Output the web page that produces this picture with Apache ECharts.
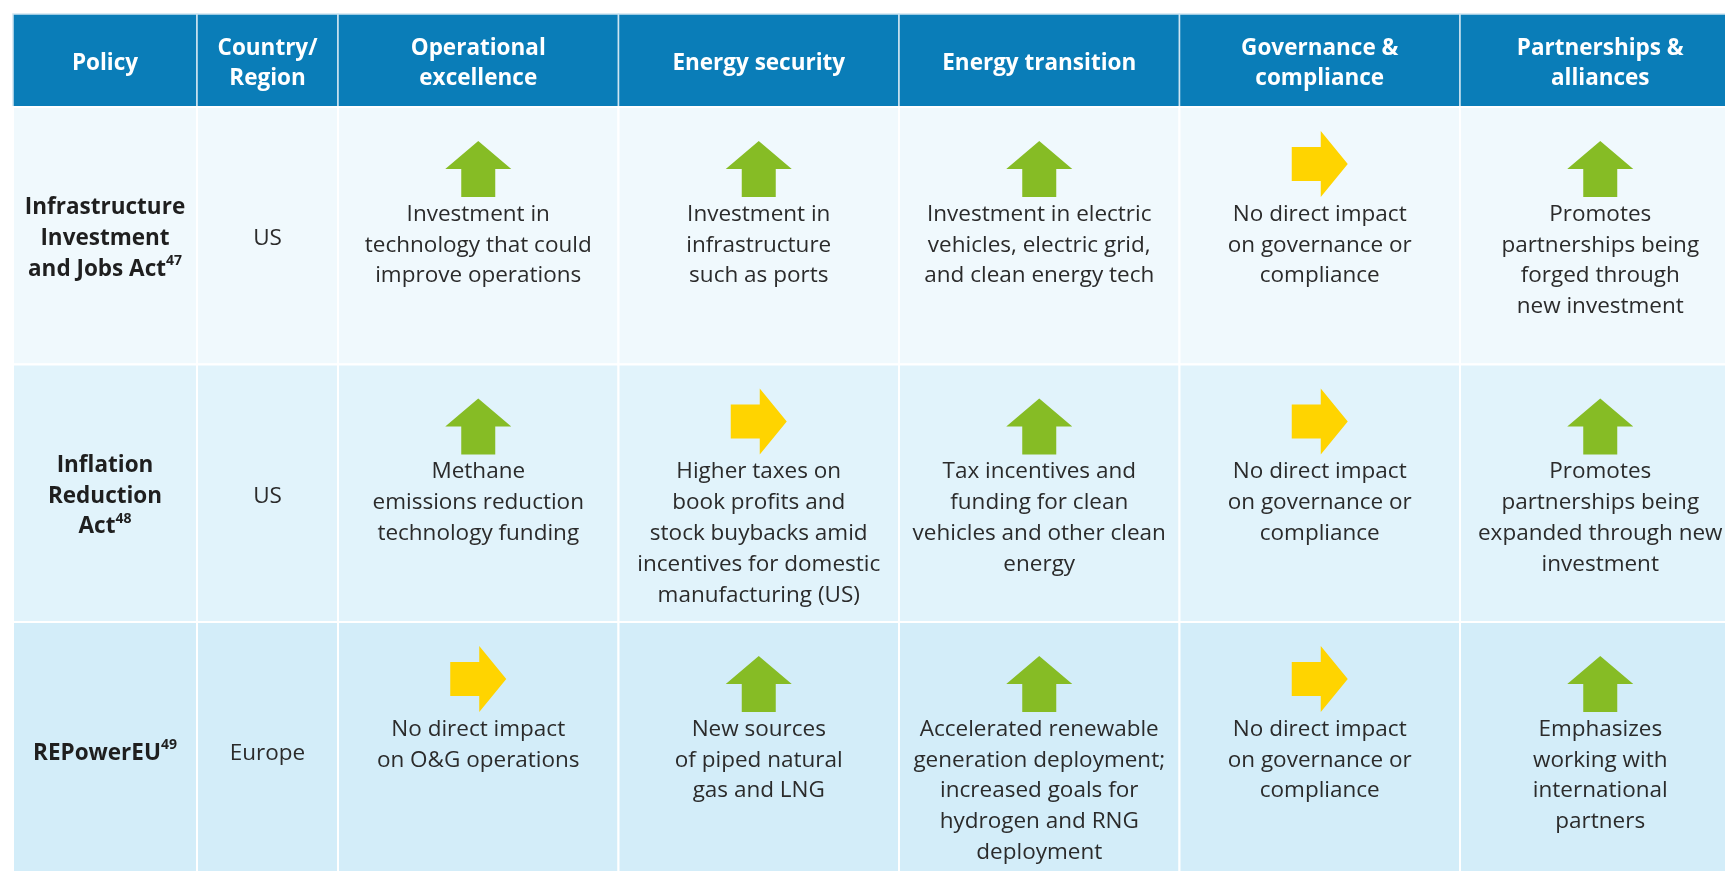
<!DOCTYPE html>
<html lang="en">
<head>
<meta charset="UTF-8">
<title>Policy impact table</title>
<style>
    html, body { margin: 0; padding: 0; background: #fff; }
    #main { width: 1725px; height: 871px; }
</style>
</head>
<body>
<div id="main"></div>
<script src="https://cdn.jsdelivr.net/npm/echarts@6/dist/echarts.min.js"></script>
<script>
// ---- table content ----
const headers = ['Policy', 'Country/\nRegion', 'Operational\nexcellence', 'Energy security',
    'Energy transition', 'Governance &\ncompliance', 'Partnerships &\nalliances'];
const policies = ['Infrastructure\nInvestment\nand Jobs Act', 'Inflation\nReduction\nAct', 'REPowerEU'];
const footnotes = ['47', '48', '49'];
const regions = ['US', 'US', 'Europe'];
// 'up' = positive impact (green), 'flat' = no direct impact (yellow)
const impactRow1 = ['up', 'up', 'up', 'flat', 'up'];
const impactRow2 = ['up', 'flat', 'up', 'flat', 'up'];
const impactRow3 = ['flat', 'up', 'up', 'flat', 'up'];
const notesRow1 = [
    'Investment in\ntechnology that could\nimprove operations',
    'Investment in\ninfrastructure\nsuch as ports',
    'Investment in electric\nvehicles, electric grid,\nand clean energy tech',
    'No direct impact\non governance or\ncompliance',
    'Promotes\npartnerships being\nforged through\nnew investment'
];
const notesRow2 = [
    'Methane\nemissions reduction\ntechnology funding',
    'Higher taxes on\nbook profits and\nstock buybacks amid\nincentives for domestic\nmanufacturing (US)',
    'Tax incentives and\nfunding for clean\nvehicles and other clean\nenergy',
    'No direct impact\non governance or\ncompliance',
    'Promotes\npartnerships being\nexpanded through new\ninvestment'
];
const notesRow3 = [
    'No direct impact\non O&G operations',
    'New sources\nof piped natural\ngas and LNG',
    'Accelerated renewable\ngeneration deployment;\nincreased goals for\nhydrogen and RNG\ndeployment',
    'No direct impact\non governance or\ncompliance',
    'Emphasizes\nworking with\ninternational\npartners'
];
const impacts = [impactRow1, impactRow2, impactRow3];
const notes = [notesRow1, notesRow2, notesRow3];

// ---- layout / style ----
const FONT = '"Open Sans", "Noto Sans", sans-serif';
const colWidths = [184, 141, 280.5, 280.5, 280.5, 280.5, 280.5];
const rowHeights = [93, 257.5, 257.5, 257.5];
const HEAD_BG = '#0a7db8';
const ROW_BG = ['#f0f9fd', '#e1f3fb', '#d3edf9'];
const GREEN = '#86bc25';
const YELLOW = '#ffd400';
const TEXT = '#2b2b2b';
const LEFT = 13, TOP = 14;

const colEdges = [0];
colWidths.forEach(function (w, i) { colEdges.push(colEdges[i] + w); });
const rowEdges = [0];
rowHeights.forEach(function (h, i) { rowEdges.push(rowEdges[i] + h); });
// the table runs past the page edge; axes cover only the visible part (1 unit = 1px)
const visW = 1725 - LEFT;
const visH = 871 - TOP;

function cellRect(api, c, r) {
    const p0 = api.coord([colEdges[c], rowEdges[r]]);
    const p1 = api.coord([colEdges[c + 1], rowEdges[r + 1]]);
    return { x: p0[0], y: p0[1], width: p1[0] - p0[0], height: p1[1] - p0[1] };
}

// arrow shapes, anchored on bottom centre
function arrowPoints(dir, cx, by) {
    if (dir === 'up') {
        const W = 66, T = 56, H = 28, S = 34;
        return [[cx - S / 2, by], [cx - S / 2, by - T + H], [cx - W / 2, by - T + H], [cx, by - T],
            [cx + W / 2, by - T + H], [cx + S / 2, by - T + H], [cx + S / 2, by]];
    }
    const L = 56, Hh = 66, Hd = 27, S = 34;
    const cy = by - Hh / 2, x0 = cx - L / 2, xm = cx + L / 2 - Hd;
    return [[x0, cy - S / 2], [xm, cy - S / 2], [xm, cy - Hh / 2], [cx + L / 2, cy],
        [xm, cy + Hh / 2], [xm, cy + S / 2], [x0, cy + S / 2]];
}

const headerData = headers.map(function (h, i) { return [i, 0]; });
const bodyData = [];
for (let r = 0; r < policies.length; r++) {
    for (let c = 0; c < headers.length; c++) bodyData.push([c, r + 1]);
}

const chart = echarts.init(document.getElementById('main'));
chart.setOption({
    backgroundColor: '#ffffff',
    animation: false,
    grid: { left: LEFT, top: TOP, width: visW, height: visH },
    xAxis: { type: 'value', min: 0, max: visW, show: false },
    yAxis: { type: 'value', min: 0, max: visH, inverse: true, show: false },
    series: [
        {
            type: 'custom',
            silent: true,
            data: headerData,
            renderItem: function (params, api) {
                const c = api.value(0);
                const rc = cellRect(api, c, 0);
                return {
                    type: 'group',
                    children: [
                        { type: 'rect', shape: rc, style: { fill: HEAD_BG, stroke: '#cfe5f1', lineWidth: 1.5 } },
                        {
                            type: 'text',
                            style: {
                                text: headers[c], x: rc.x + rc.width / 2, y: rc.y + rc.height / 2 + 3,
                                align: 'center', verticalAlign: 'middle', fill: '#ffffff',
                                fontSize: 22.5, fontWeight: 'bold', fontFamily: FONT, lineHeight: 30.8
                            }
                        }
                    ]
                };
            }
        },
        {
            type: 'custom',
            silent: true,
            data: bodyData,
            renderItem: function (params, api) {
                const c = api.value(0);
                const r = api.value(1);
                const rc = cellRect(api, c, r);
                const cx = rc.x + rc.width / 2;
                const children = [
                    { type: 'rect', shape: rc, style: { fill: ROW_BG[r - 1], stroke: '#ffffff', lineWidth: 2 } }
                ];
                if (c === 0) {
                    const lines = policies[r - 1].split('\n').map(function (l) { return '{b|' + l + '}'; });
                    lines[lines.length - 1] += '{sup|' + footnotes[r - 1] + '}';
                    children.push({
                        type: 'text',
                        style: {
                            text: lines.join('\n'), x: cx, y: rc.y + rc.height / 2 + 3,
                            align: 'center', verticalAlign: 'middle',
                            rich: {
                                b: { fontSize: 22.5, fontWeight: 'bold', fontFamily: FONT, fill: '#1f1f1f', lineHeight: 30.8 },
                                sup: { fontSize: 14, fontWeight: 'bold', fontFamily: FONT, fill: '#1f1f1f', lineHeight: 29, verticalAlign: 'top' }
                            }
                        }
                    });
                } else if (c === 1) {
                    children.push({
                        type: 'text',
                        style: {
                            text: regions[r - 1], x: cx, y: rc.y + rc.height / 2 + 3,
                            align: 'center', verticalAlign: 'middle', fill: TEXT,
                            fontSize: 22.5, fontFamily: FONT
                        }
                    });
                } else {
                    const dir = impacts[r - 1][c - 2];
                    const by = api.coord([0, rowEdges[r] + 90])[1];
                    children.push({
                        type: 'polygon',
                        shape: { points: arrowPoints(dir, cx, by) },
                        style: { fill: dir === 'up' ? GREEN : YELLOW }
                    });
                    children.push({
                        type: 'text',
                        style: {
                            text: notes[r - 1][c - 2], x: cx, y: by + 2,
                            align: 'center', verticalAlign: 'top', fill: TEXT,
                            fontSize: 22.5, fontFamily: FONT, lineHeight: 30.8
                        }
                    });
                }
                return { type: 'group', children: children };
            }
        }
    ]
});
</script>
</body>
</html>
